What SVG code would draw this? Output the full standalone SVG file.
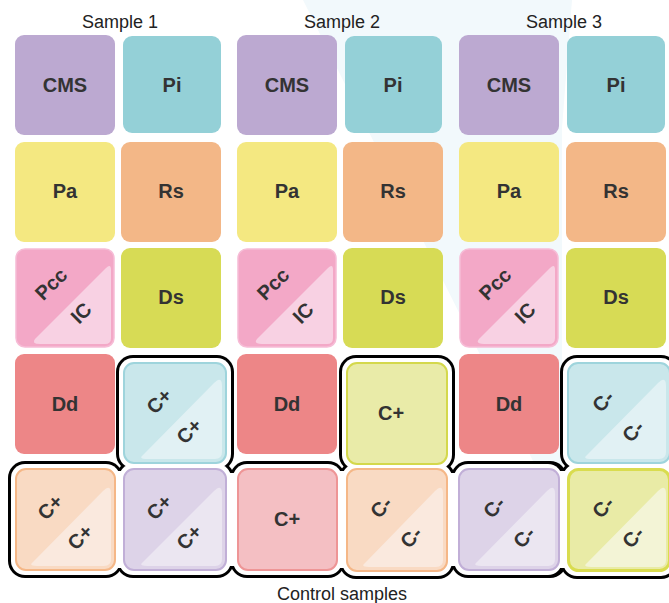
<svg xmlns="http://www.w3.org/2000/svg" width="669" height="603" viewBox="0 0 669 603">
<style>
.title{font-family:"Liberation Sans",Arial,sans-serif;font-size:18px;fill:#222;text-anchor:middle}
.lbl{font-family:"Liberation Sans",Arial,sans-serif;font-size:20px;font-weight:bold;fill:#333;text-anchor:middle;dominant-baseline:central}
.rl{font-family:"Liberation Sans",Arial,sans-serif;font-size:20px;font-weight:bold;fill:#333;text-anchor:middle;dominant-baseline:central}
.sl{font-family:"Liberation Sans",Arial,sans-serif;font-size:20px;font-weight:bold;fill:#333;text-anchor:middle;dominant-baseline:central}
.cms{fill:#bca9d1}.pi{fill:#94d0d7}.pa{fill:#f4e881}.rs{fill:#f3b787}.ds{fill:#d7db55}.dd{fill:#ed8687}
.pcc{fill:#f3a8c7;stroke:#f6bcd6;stroke-width:1.5}.pcct{fill:#f8d1e3}
.blk{fill:#000}.wht{fill:#fff}
.hb{fill:#c9e7eb;stroke:#9ed4dc;stroke-width:2}.hbt{fill:#e1f1f4}
.ho{fill:#f9dac3;stroke:#f5b787;stroke-width:2}.hot{fill:#fae9de}
.hp{fill:#ddd3e8;stroke:#c1afd7;stroke-width:2}.hpt{fill:#ebe6f1}
.hy{fill:#e9eba8;stroke:#d4d84c;stroke-width:2}
.hk{fill:#f4bfc3;stroke:#ee9596;stroke-width:2}
.hy3{fill:#e9eba6;stroke:#d9dc4f;stroke-width:3}.hy3t{fill:#f3f4d6}
</style>
<rect x="0" y="0" width="669" height="603" fill="#fff"/>
<polygon points="303,0 572,0 562,128 562,470 540,475" fill="#f2f9fc"/>

<g id="titles">
<text class="title" x="120" y="28">Sample 1</text>
<text class="title" x="342" y="28">Sample 2</text>
<text class="title" x="564" y="28">Sample 3</text>
<text class="title" x="342" y="600">Control samples</text>
</g>

<!-- Sample 1 -->
<g id="s1-cms"><rect class="cms" x="15" y="35" width="100" height="100" rx="9"/><text class="lbl" x="65" y="85">CMS</text></g>
<g id="s1-pi"><rect class="pi" x="123" y="36" width="98" height="97" rx="9"/><text class="lbl" x="172" y="85">Pi</text></g>
<g id="s1-pa"><rect class="pa" x="15" y="142" width="100" height="100" rx="9"/><text class="lbl" x="65" y="191">Pa</text></g>
<g id="s1-rs"><rect class="rs" x="121" y="142" width="100" height="100" rx="9"/><text class="lbl" x="171" y="191">Rs</text></g>
<g id="s1-pcc"><rect class="pcc" x="16" y="249" width="98" height="98" rx="9"/>
<path class="pcct" d="M35,339 L106,268 Q111,263 111,270 L111,338 Q111,344 105,344 L40,344 Q31,344 35,339 Z"/>
<text class="rl" transform="rotate(-45 51 284)" x="51" y="284">Pcc</text>
<text class="rl" transform="rotate(-45 81 313)" x="81" y="313">IC</text></g>
<g id="s1-ds"><rect class="ds" x="121" y="248" width="100" height="100" rx="9"/><text class="lbl" x="171" y="297">Ds</text></g>
<g id="s1-dd"><rect class="dd" x="15" y="354" width="100" height="100" rx="9"/><text class="lbl" x="65" y="404">Dd</text></g>

<!-- Sample 2 -->
<g id="s2-cms"><rect class="cms" x="237" y="35" width="100" height="100" rx="9"/><text class="lbl" x="287" y="85">CMS</text></g>
<g id="s2-pi"><rect class="pi" x="345" y="36" width="97" height="97" rx="9"/><text class="lbl" x="393" y="85">Pi</text></g>
<g id="s2-pa"><rect class="pa" x="237" y="142" width="100" height="100" rx="9"/><text class="lbl" x="287" y="191">Pa</text></g>
<g id="s2-rs"><rect class="rs" x="343" y="142" width="100" height="100" rx="9"/><text class="lbl" x="393" y="191">Rs</text></g>
<g id="s2-pcc"><rect class="pcc" x="238" y="249" width="98" height="98" rx="9"/>
<path class="pcct" d="M257,339 L328,268 Q333,263 333,270 L333,338 Q333,344 327,344 L262,344 Q253,344 257,339 Z"/>
<text class="rl" transform="rotate(-45 273 284)" x="273" y="284">Pcc</text>
<text class="rl" transform="rotate(-45 303 313)" x="303" y="313">IC</text></g>
<g id="s2-ds"><rect class="ds" x="343" y="248" width="100" height="100" rx="9"/><text class="lbl" x="393" y="297">Ds</text></g>
<g id="s2-dd"><rect class="dd" x="237" y="354" width="100" height="100" rx="9"/><text class="lbl" x="287" y="404">Dd</text></g>

<!-- Sample 3 -->
<g id="s3-cms"><rect class="cms" x="459" y="35" width="100" height="100" rx="9"/><text class="lbl" x="509" y="85">CMS</text></g>
<g id="s3-pi"><rect class="pi" x="567" y="36" width="98" height="97" rx="9"/><text class="lbl" x="616" y="85">Pi</text></g>
<g id="s3-pa"><rect class="pa" x="459" y="142" width="100" height="100" rx="9"/><text class="lbl" x="509" y="191">Pa</text></g>
<g id="s3-rs"><rect class="rs" x="566" y="142" width="100" height="100" rx="9"/><text class="lbl" x="616" y="191">Rs</text></g>
<g id="s3-pcc"><rect class="pcc" x="460" y="249" width="98" height="98" rx="9"/>
<path class="pcct" d="M479,339 L550,268 Q555,263 555,270 L555,338 Q555,344 549,344 L484,344 Q475,344 479,339 Z"/>
<text class="rl" transform="rotate(-45 495 284)" x="495" y="284">Pcc</text>
<text class="rl" transform="rotate(-45 525 313)" x="525" y="313">IC</text></g>
<g id="s3-ds"><rect class="ds" x="566" y="248" width="100" height="100" rx="9"/><text class="lbl" x="616" y="297">Ds</text></g>
<g id="s3-dd"><rect class="dd" x="459" y="354" width="100" height="100" rx="9"/><text class="lbl" x="509" y="404">Dd</text></g>

<!-- Control frame -->
<g id="control-frame">
<rect class="blk" x="116" y="355" width="118" height="116" rx="17"/>
<rect class="blk" x="8" y="461" width="115" height="117" rx="17"/>
<rect class="blk" x="116" y="461" width="118" height="117" rx="17"/>
<rect class="blk" x="339" y="355" width="116" height="117" rx="17"/>
<rect class="blk" x="230" y="461" width="115" height="117" rx="17"/>
<rect class="blk" x="339" y="461" width="116" height="118" rx="17"/>
<rect class="blk" x="560" y="355" width="118" height="116" rx="17"/>
<rect class="blk" x="451" y="461" width="116" height="117" rx="17"/>
<rect class="blk" x="560" y="461" width="118" height="118" rx="17"/>
<rect class="wht" x="119" y="358" width="112" height="110" rx="14"/>
<rect class="wht" x="11" y="464" width="109" height="111" rx="14"/>
<rect class="wht" x="119" y="464" width="112" height="111" rx="14"/>
<rect class="wht" x="342" y="358" width="110" height="111" rx="14"/>
<rect class="wht" x="233" y="464" width="109" height="111" rx="14"/>
<rect class="wht" x="342" y="464" width="110" height="112" rx="14"/>
<rect class="wht" x="563" y="358" width="112" height="110" rx="14"/>
<rect class="wht" x="454" y="464" width="108" height="111" rx="14"/>
<rect class="wht" x="563" y="464" width="112" height="112" rx="14"/>
<rect class="wht" x="114" y="471" width="11" height="97"/>
<rect class="wht" x="225" y="473" width="14" height="93"/>
<rect class="wht" x="336" y="471" width="12" height="97"/>
<rect class="wht" x="446" y="473" width="14" height="93"/>
<rect class="wht" x="558" y="471" width="11" height="97"/>
<rect class="wht" x="126" y="462" width="98" height="8"/>
<rect class="wht" x="349" y="463" width="96" height="8"/>
<rect class="wht" x="570" y="462" width="99" height="8"/>
</g>

<g id="s1-ctl-b"><rect class="hb" x="124" y="363" width="102" height="100" rx="10"/>
<path class="hbt" d="M143,455 L214,383 Q222,375 222,386 L222,452 Q222,459 215,459 L147,459 Q138,459 143,455 Z"/>
<text class="sl" transform="rotate(-45 159 401)" x="159" y="401">C+</text>
<text class="sl" transform="rotate(-45 189 431)" x="189" y="431">C+</text></g>
<g id="s1-ctl-o"><rect class="ho" x="16" y="469" width="99" height="101" rx="10"/>
<path class="hot" d="M33,562 L103,491 Q111,483 111,494 L111,559 Q111,566 104,566 L37,566 Q28,566 33,562 Z"/>
<text class="sl" transform="rotate(-45 50 507)" x="50" y="507">C+</text>
<text class="sl" transform="rotate(-45 80 537)" x="80" y="537">C+</text></g>
<g id="s1-ctl-p"><rect class="hp" x="124" y="469" width="102" height="101" rx="10"/>
<path class="hpt" d="M143,562 L214,491 Q222,483 222,494 L222,559 Q222,566 215,566 L147,566 Q138,566 143,562 Z"/>
<text class="sl" transform="rotate(-45 159 507)" x="159" y="507">C+</text>
<text class="sl" transform="rotate(-45 189 537)" x="189" y="537">C+</text></g>

<g id="s2-ctl-y"><rect class="hy" x="347" y="363" width="100" height="101" rx="10"/><text class="lbl" x="391" y="413">C+</text></g>
<g id="s2-ctl-k"><rect class="hk" x="238" y="469" width="99" height="101" rx="10"/><text class="lbl" x="287" y="519">C+</text></g>
<g id="s2-ctl-o"><rect class="ho" x="347" y="469" width="100" height="102" rx="10"/>
<path class="hot" d="M365,563 L435,491 Q443,483 443,494 L443,560 Q443,567 436,567 L369,567 Q360,567 365,563 Z"/>
<text class="sl" transform="rotate(-45 381 507)" x="381" y="507">C-</text>
<text class="sl" transform="rotate(-45 411 537)" x="411" y="537">C-</text></g>

<g id="s3-ctl-b"><rect class="hb" x="568" y="363" width="102" height="100" rx="10"/>
<path class="hbt" d="M587,455 L658,383 Q666,375 666,386 L666,452 Q666,459 659,459 L591,459 Q582,459 587,455 Z"/>
<text class="sl" transform="rotate(-45 603 401)" x="603" y="401">C-</text>
<text class="sl" transform="rotate(-45 633 431)" x="633" y="431">C-</text></g>
<g id="s3-ctl-p"><rect class="hp" x="459" y="469" width="100" height="101" rx="10"/>
<path class="hpt" d="M477,562 L547,491 Q555,483 555,494 L555,559 Q555,566 548,566 L481,566 Q472,566 477,562 Z"/>
<text class="sl" transform="rotate(-45 494 507)" x="494" y="507">C-</text>
<text class="sl" transform="rotate(-45 524 537)" x="524" y="537">C-</text></g>
<g id="s3-ctl-y"><rect class="hy3" x="568.5" y="469.5" width="101" height="101" rx="10"/>
<path class="hy3t" d="M587,563 L658,491 Q666,483 666,494 L666,560 Q666,567 659,567 L591,567 Q582,567 587,563 Z"/>
<text class="sl" transform="rotate(-45 603 507)" x="603" y="507">C-</text>
<text class="sl" transform="rotate(-45 633 537)" x="633" y="537">C-</text></g>

<g id="connectors"></g>
</svg>
